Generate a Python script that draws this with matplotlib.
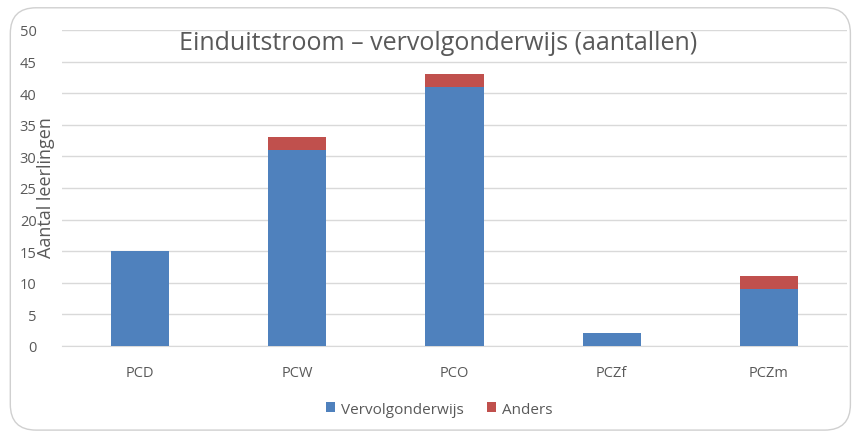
import matplotlib
matplotlib.use("Agg")
import numpy as np
import matplotlib.pyplot as plt
from matplotlib.patches import FancyBboxPatch

# data
categories = ["PCD", "PCW", "PCO", "PCZf", "PCZm"]
vervolgonderwijs = [15, 31, 41, 2, 9]
anders = [0, 2, 2, 0, 2]

BLUE = "#4F81BD"
RED = "#C0504D"
TEXT = "#595959"

plt.rcParams["font.family"] = ["Open Sans", "DejaVu Sans"]

fig = plt.figure(figsize=(8.59, 4.39), dpi=100)

# rounded chart border, behind the axes
border = FancyBboxPatch(
    (0.012, 0.018), 0.978, 0.962,
    boxstyle="round,pad=0,rounding_size=0.03",
    transform=fig.transFigure,
    facecolor="white", edgecolor="#D0D0D0", linewidth=1.0,
    mutation_aspect=859 / 439, zorder=-10,
)
fig.patches.append(border)

ax = fig.add_axes([0.0716, 0.2096, 0.915, 0.7198])
ax.patch.set_alpha(0)

x = np.arange(len(categories))
ax.bar(x, vervolgonderwijs, width=0.37, color=BLUE, label="Vervolgonderwijs", zorder=3)
ax.bar(x, anders, width=0.37, bottom=vervolgonderwijs, color=RED, label="Anders", zorder=3)

ax.set_xlim(-0.5, len(categories) - 0.5)
ax.set_ylim(0, 50)
ax.set_yticks(np.arange(0, 51, 5))
ax.set_xticks(x)
ax.set_xticklabels(categories)

ax.grid(axis="y", color="#D9D9D9", linewidth=1.0, zorder=0)
for side in ["top", "right", "left"]:
    ax.spines[side].set_visible(False)
ax.spines["bottom"].set_color("#D9D9D9")
ax.tick_params(length=0, colors=TEXT, labelsize=10.5)
ax.tick_params(axis="x", pad=14)
ax.tick_params(axis="y", pad=18)

ax.set_ylabel("Aantal leerlingen", color=TEXT, fontsize=13)
ax.yaxis.set_label_coords(-0.008, 0.503)

ax.text(0.479, 0.96, "Einduitstroom \u2013 vervolgonderwijs (aantallen)",
        transform=ax.transAxes, ha="center", va="center",
        fontsize=18, color=TEXT)

fig.legend(loc="center", bbox_to_anchor=(0.511, 0.066), ncol=2, frameon=False,
           fontsize=11, labelcolor=TEXT, handlelength=0.6, handleheight=0.6,
           handletextpad=0.4, columnspacing=1.5)

fig.savefig("out.png", dpi=100)
